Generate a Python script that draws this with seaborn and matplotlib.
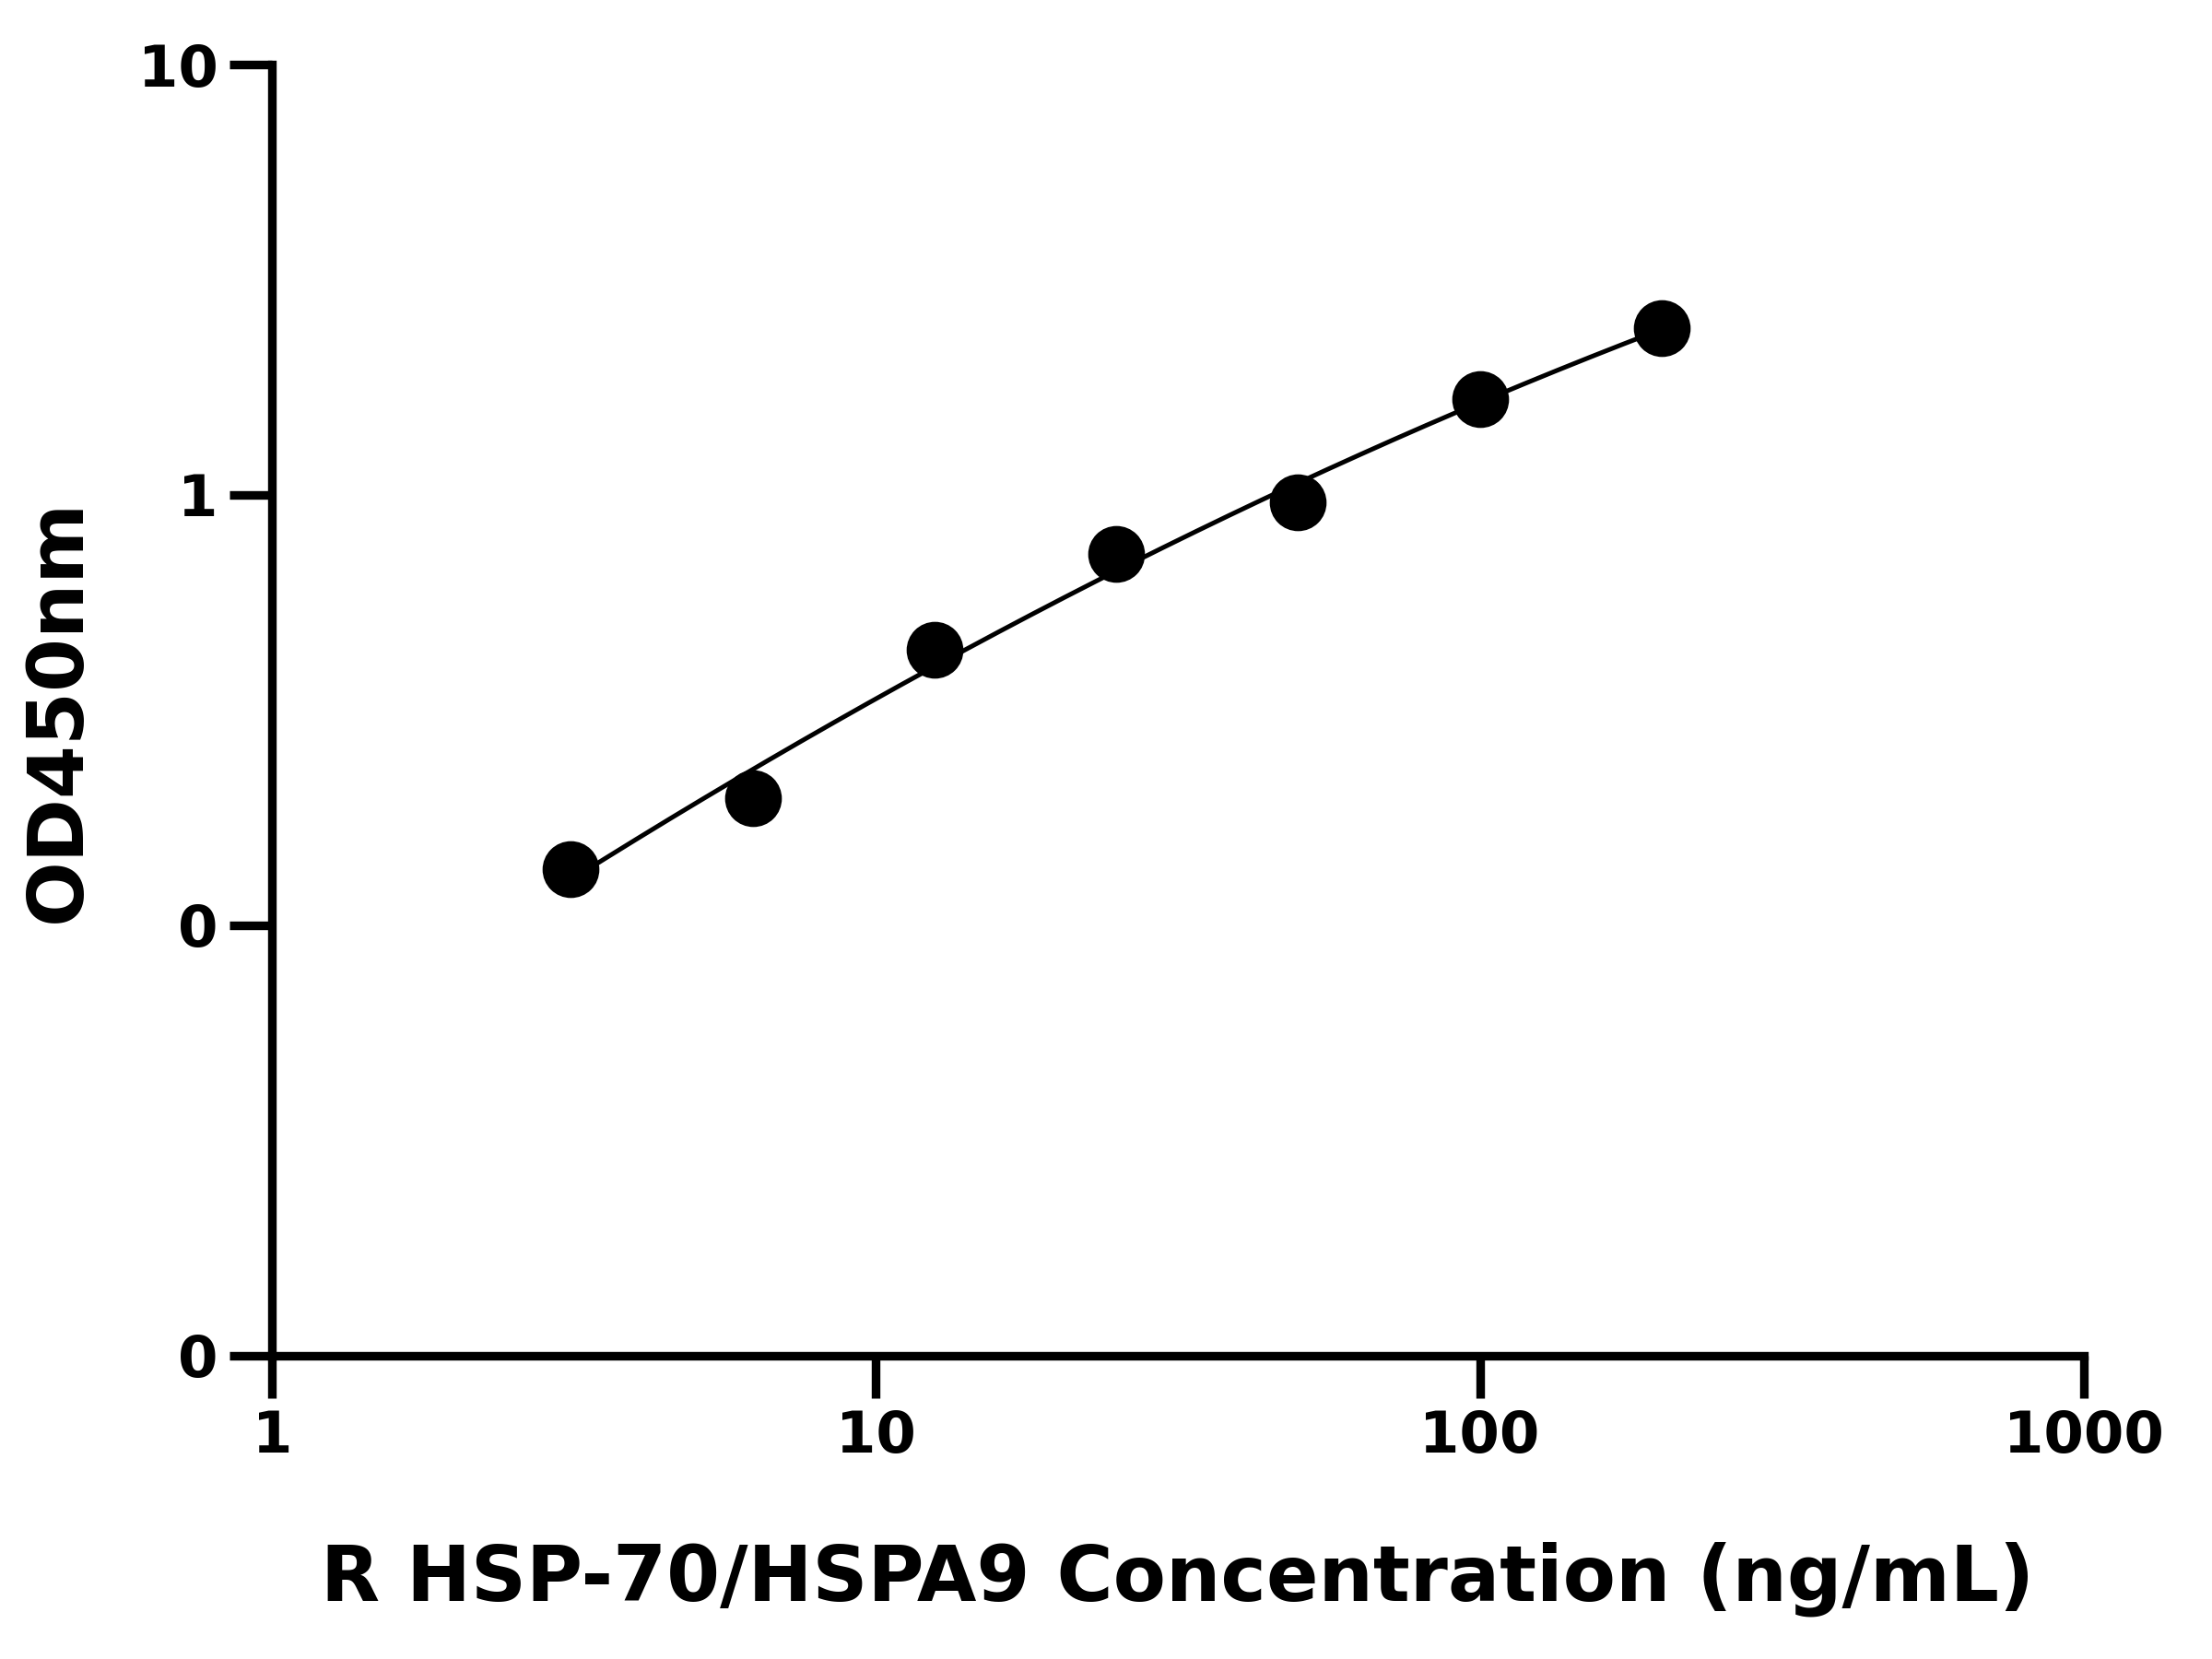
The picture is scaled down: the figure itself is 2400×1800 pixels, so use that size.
import numpy as np
import pandas as pd
import matplotlib
matplotlib.use("Agg")
import matplotlib.pyplot as plt
import seaborn as sns

# Standard curve data
conc = [3.125, 6.25, 12.5, 25, 50, 100, 200]
od450 = [0.135, 0.197, 0.436, 0.728, 0.963, 1.67, 2.44]
x_ticks = [1, 10, 100, 1000]
x_labels = ["1", "10", "100", "1000"]
y_ticks = [0.01, 0.1, 1, 10]
y_labels = ["0", "0", "1", "10"]

sns.set_style("ticks")
plt.rcParams['font.family'] = ['DejaVu Sans']
plt.rcParams['font.weight'] = 'bold'
plt.rcParams['text.color'] = 'black'
plt.rcParams['axes.labelcolor'] = 'black'
plt.rcParams['xtick.color'] = 'black'
plt.rcParams['ytick.color'] = 'black'
plt.rcParams['axes.edgecolor'] = 'black'

df = pd.DataFrame({"conc": conc, "od": od450})

# smooth fit in log-log space for the curve
coef = np.polyfit(np.log10(df["conc"]), np.log10(df["od"]), 2)
xs = np.logspace(np.log10(conc[0]), np.log10(conc[-1]), 200)
fit = pd.DataFrame({"conc": xs, "od": 10 ** np.polyval(coef, np.log10(xs))})

fig = plt.figure(figsize=(16, 12), dpi=150)
ax = fig.add_axes([0.123, 0.183, 0.819, 0.778])
sns.lineplot(data=fit, x="conc", y="od", color="black", linewidth=2.4, ax=ax)
sns.scatterplot(data=df, x="conc", y="od", color="black", s=750, edgecolor="black", zorder=3, ax=ax)

ax.set_xscale("log")
ax.set_yscale("log")
ax.set_xlim(1, 1000)
ax.set_ylim(0.01, 10)
ax.set_xticks(x_ticks)
ax.set_xticklabels(x_labels)
ax.set_yticks(y_ticks)
ax.set_yticklabels(y_labels)
ax.minorticks_off()
ax.tick_params(axis="both", width=4.5, length=22, labelsize=30, direction="out", pad=6)
for lbl in ax.get_xticklabels() + ax.get_yticklabels():
    lbl.set_fontweight("bold")
sns.despine(ax=ax)
for s in ["left", "bottom"]:
    ax.spines[s].set_linewidth(4.5)
ax.set_xlabel("R HSP-70/HSPA9 Concentration (ng/mL)", fontsize=40, fontweight="bold", labelpad=40)
ax.set_ylabel("OD450nm", fontsize=40, fontweight="bold", labelpad=22)

fig.savefig("out.png", dpi=150)
